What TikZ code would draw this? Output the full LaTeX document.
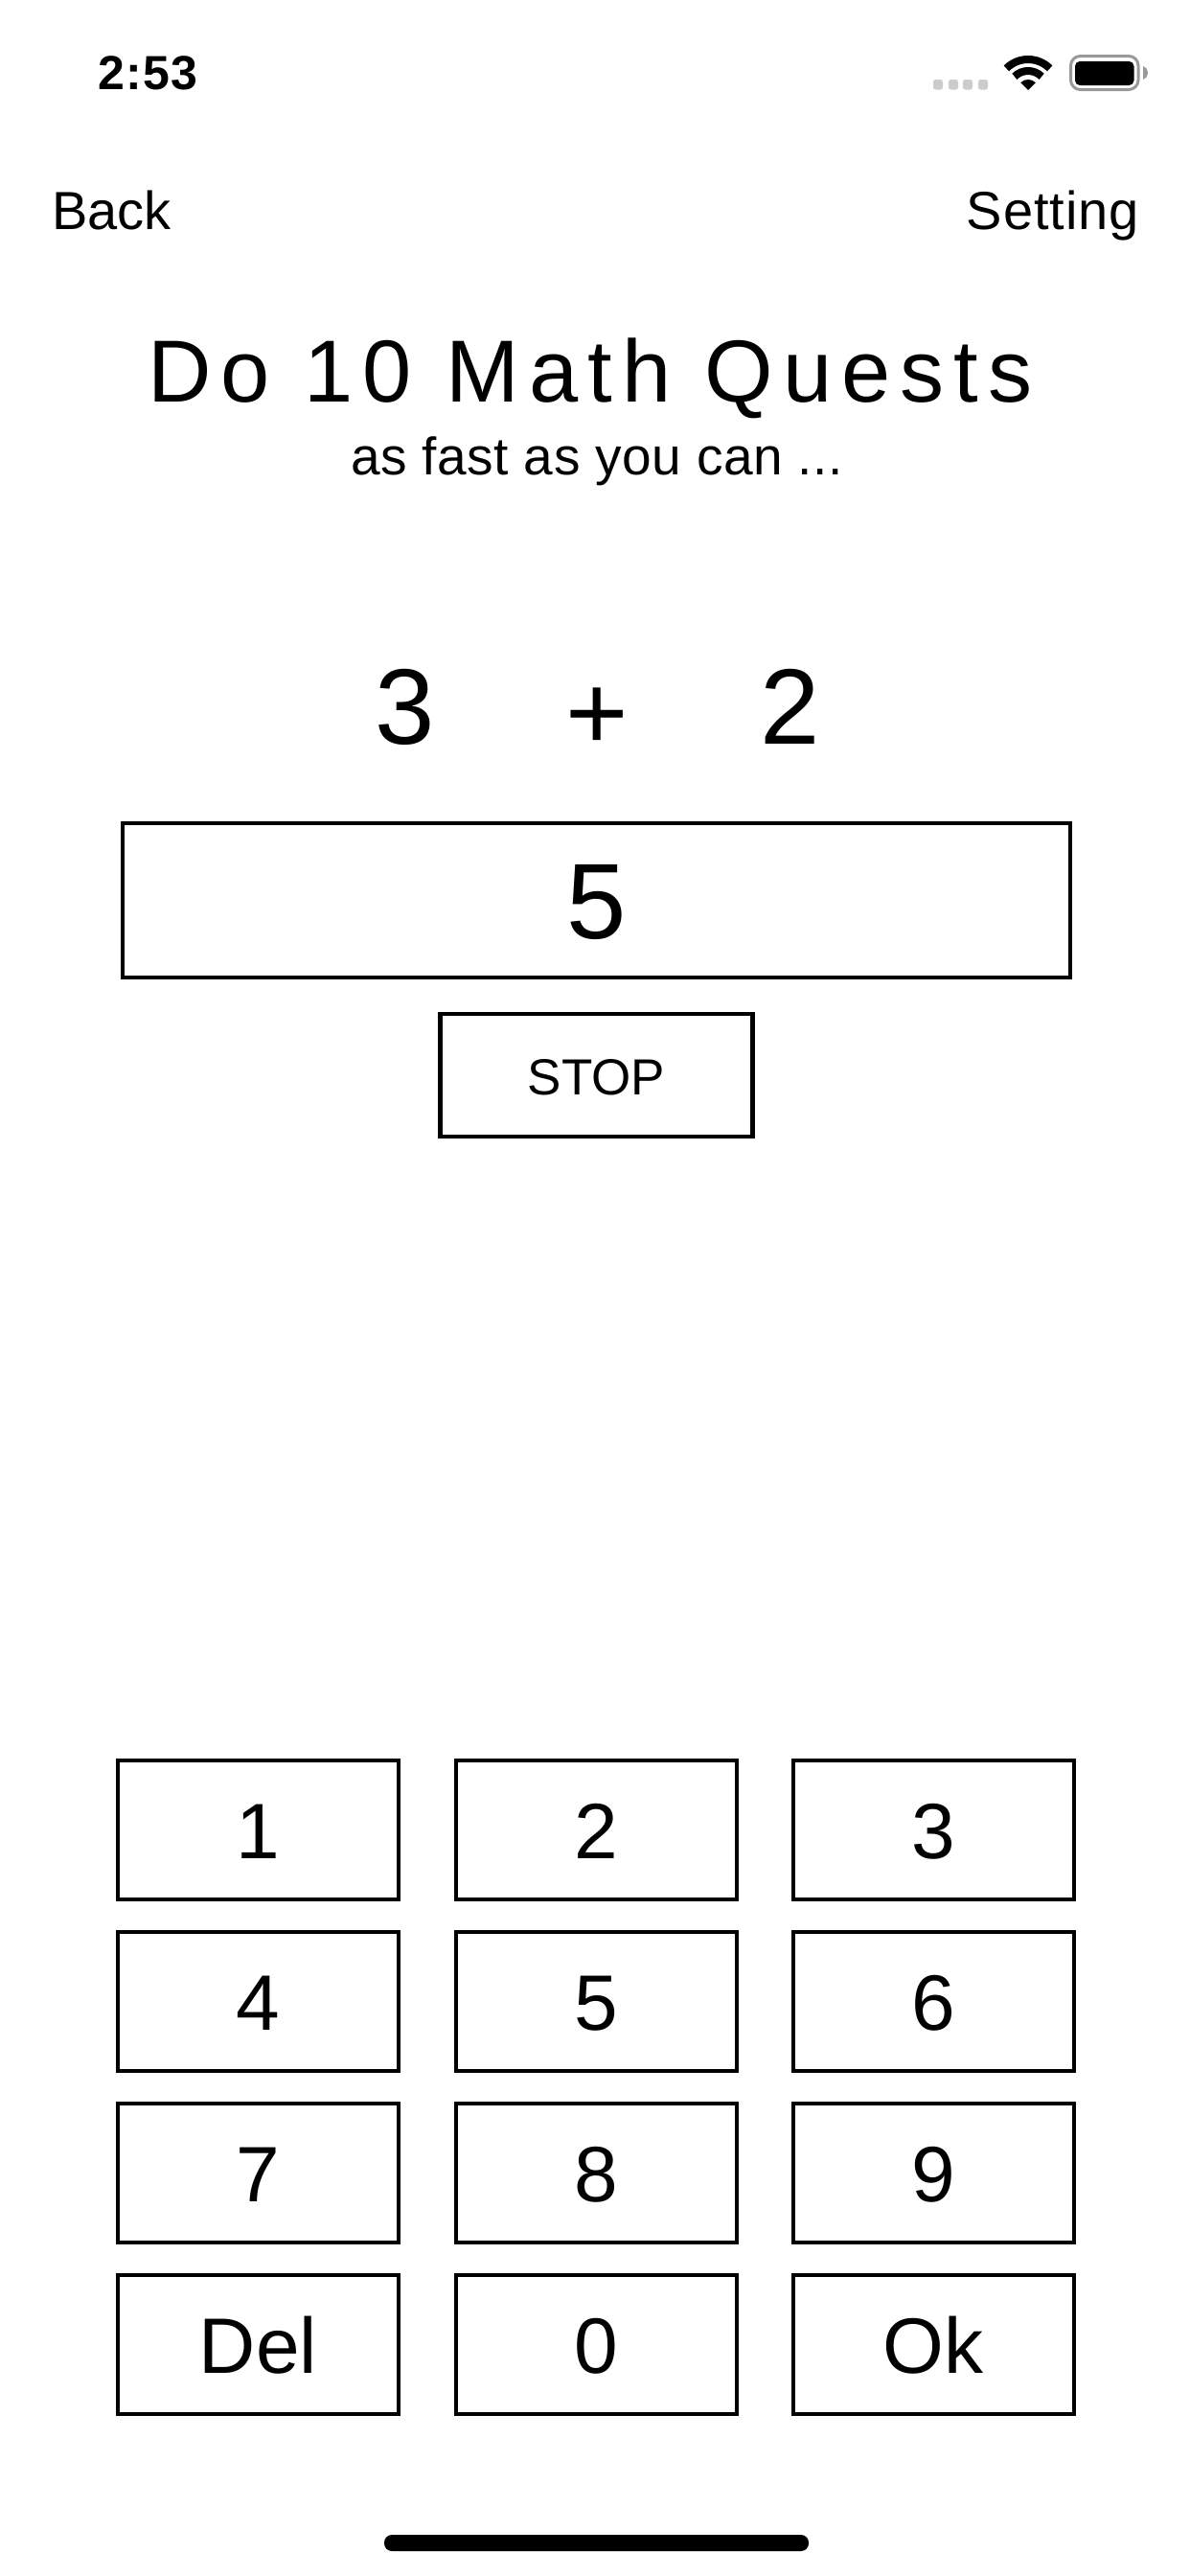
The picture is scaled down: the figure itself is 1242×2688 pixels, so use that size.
\documentclass[tikz,border=0pt]{standalone}
\usepackage{fontspec}
\setmainfont{Liberation Sans}
\newcommand{\txt}[3]{\fontsize{#1}{#1}\selectfont\addfontfeature{LetterSpace=#2}#3}
\tikzset{
  x=1pt,y=-1pt,
  label text/.style={inner sep=0pt,outer sep=0pt,text=black},
  frame box/.style={draw=black,line width=4.5pt,fill=white,inner sep=0pt,outer sep=0pt,text=black,text depth=0pt},
  key/.style={frame box,line width=4pt,minimum width=293pt,minimum height=145pt,text height=60pt,font=\fontsize{82}{82}\selectfont},
  wifi arc/.style={draw=black,line width=8pt,line cap=butt}
}
\begin{document}
\begin{tikzpicture}
\useasboundingbox (0,0) rectangle (1242,2688);
\fill[white] (0,0) rectangle (1242,2688);
% status bar
\node[label text,anchor=base] (clock) at (154.5,93) {\bfseries\txt{50}{2}{2:53}};
\foreach \i/\px in {1/979,2/995,3/1010,4/1026}
  \fill[fill=black!20,rounded corners=2.5pt] (\px-5,83) rectangle (\px+5,93.5);
\begin{scope}[shift={(1073,94)},y=1pt]
  \draw[wifi arc] (135:32) arc[start angle=135,end angle=45,radius=32pt];
  \draw[wifi arc] (135:20) arc[start angle=135,end angle=45,radius=20pt];
  \fill[black] (0,0) -- (135:11) arc[start angle=135,end angle=45,radius=11pt] -- cycle;
\end{scope}
\draw[draw=black!40,line width=3pt,rounded corners=10pt] (1117.5,58.5) rectangle (1188,93.5);
\fill[black,rounded corners=5pt] (1122,64) rectangle (1183.5,89);
\fill[black!40] (1193,69) .. controls (1197,71) and (1198,73) .. (1198,76) .. controls (1198,79) and (1197,81) .. (1193,83) -- cycle;
% header
\node[label text,anchor=base west] (back) at (54,239) {\txt{56}{0}{Back}};
\node[label text,anchor=base east] (setting) at (1189,239) {\txt{56}{1.7}{Setting}};
\node[label text,anchor=base] (title) at (616,419) {\txt{92}{10.9}{Do 10 Math Quests}};
\node[label text,anchor=base] (subtitle) at (623,495) {\txt{55}{1}{as fast as you can ...}};
% question
\node[label text,anchor=base] (qa) at (422.5,776) {\txt{112}{0}{3}};
\node[label text,anchor=base] (qop) at (623,782) {\txt{112}{0}{+}};
\node[label text,anchor=base] (qb) at (824.5,776) {\txt{112}{0}{2}};
\node[frame box,minimum width=989pt,minimum height=161pt,text height=80pt,font=\fontsize{112}{112}\selectfont] (answer) at (622.5,939.6) {5};
\node[frame box,minimum width=326pt,minimum height=128pt,text height=41pt,font=\fontsize{53}{53}\selectfont] (stop) at (622.5,1122) {STOP};
% keypad
\foreach \name/\cx/\cy/\lab in {
  k1/269.5/1909.5/1,k2/622/1909.5/2,k3/974/1909.5/3,
  k4/269.5/2088/4,k5/622/2088/5,k6/974/2088/6,
  k7/269.5/2267/7,k8/622/2267/8,k9/974/2267/9,
  kdel/269.5/2446/Del,k0/622/2446/0,kok/974/2446/Ok}
  \node[key] (\name) at (\cx,\cy) {\lab};
% home indicator
\fill[black,rounded corners=8pt] (401,2645) rectangle (844,2662);
\end{tikzpicture}
\end{document}
